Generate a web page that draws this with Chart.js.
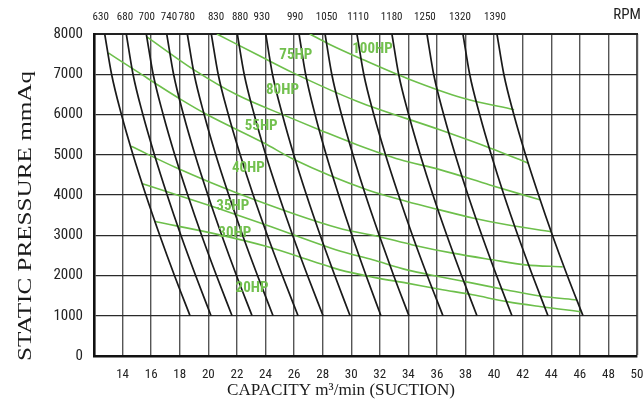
<!DOCTYPE html>
<html><head><meta charset="utf-8">
<script src="https://cdn.jsdelivr.net/npm/chart.js@4.4.1/dist/chart.umd.min.js"></script>
<style>html,body{margin:0;padding:0;background:#fff;}#wrap{width:643px;height:415px;}</style>
</head><body><div id="wrap"><canvas id="c" width="643" height="415"></canvas></div>
<script>
// ---- data ----
const pressureLevels = [8000, 7000, 6000, 5000, 4000, 3000, 2000, 1000];
const rpmNames = ['630','680','700','740','780','830','880','930','990','1050','1110','1180','1250','1320','1390'];
const rpmLabelCapacity = [12.47,14.17,15.69,17.25,18.49,20.54,22.22,23.74,26.07,28.28,30.48,32.83,35.16,37.61,40.06];
const rpmUnitLabel = 'RPM';
const rpmUnitCapacity = 49.3;
const rpmCurveCapacity = [
  [12.75,13.23,13.92,14.73,15.63,16.60,17.63,18.72],
  [14.26,14.73,15.42,16.23,17.12,18.08,19.11,20.19],
  [15.66,16.14,16.84,17.65,18.56,19.53,20.57,21.66],
  [17.09,17.57,18.26,19.07,19.97,20.94,21.97,23.06],
  [18.53,19.01,19.71,20.52,21.43,22.40,23.44,24.53],
  [20.21,20.69,21.40,22.23,23.14,24.13,25.18,26.28],
  [22.03,22.51,23.21,24.02,24.93,25.90,26.94,28.03],
  [24.02,24.49,25.18,25.98,26.87,27.83,28.85,29.92],
  [26.35,26.81,27.47,28.25,29.12,30.05,31.04,32.08],
  [28.17,28.64,29.32,30.12,31.00,31.96,32.97,34.04],
  [30.40,30.88,31.58,32.40,33.31,34.28,35.32,36.42],
  [32.85,33.32,34.02,34.83,35.72,36.69,37.72,38.80],
  [35.30,35.77,36.47,37.28,38.17,39.14,40.17,41.25],
  [37.82,38.29,38.99,39.80,40.69,41.66,42.69,43.77],
  [40.20,40.68,41.38,42.20,43.11,44.08,45.12,46.22]
];
const hpCurveCapacity = [
  [27.1,28.5,30.85,34.1,37.8,41.4],
  [20.6,23.4,25.9,30.4,36.2,39.7,42.4],
  [15.7,19.0,22.0,25.8,28.05,30.4,33.4,36.2,39.7,43.2],
  [13.0,15.0,18.1,19.9,23.9,26.0,31.1,33.9,36.2,38.5,40.9,44.0],
  [14.6,17.8,22.0,29.1,31.9,34.3,37.1,39.9,42.2,44.8],
  [15.4,20.4,24.1,29.2,31.5,33.9,36.2,38.5,40.9,43.2,45.8],
  [16.25,20.8,24.1,27.35,29.2,31.5,33.9,36.2,38.5,40.9,43.2,46.1]
];
const hpCurvePressure = [
  [8000,7740,7360,6870,6410,6120],
  [8000,7490,7040,6330,5620,5170,4790],
  [7930,7110,6490,5910,5580,5250,4880,4630,4250,3880],
  [7530,7070,6370,6000,5290,4880,4130,3840,3630,3430,3260,3090],
  [5210,4670,4050,3180,2970,2760,2555,2390,2265,2215],
  [4280,3700,3250,2610,2390,2140,1970,1810,1640,1490,1390],
  [3340,3010,2720,2350,2140,1960,1810,1660,1520,1350,1230,1100]
];
const hpLabelNames = ['100HP','75HP','80HP','55HP','40HP','35HP','30HP','20HP'];
const hpLabelCapacity = [31.49,26.12,25.19,23.70,22.80,21.71,21.85,23.06];
const hpLabelPressure = [7612,7468,6597,5704,4669,3714,3052,1684];
const xAxisTitle = 'CAPACITY m³/min (SUCTION)';
const yAxisTitle = 'STATIC PRESSURE mmAq';

// ---- styles ----
const NARROW = '"Liberation Sans Narrow", "Arial Narrow", "Roboto Condensed", "DejaVu Sans Condensed", sans-serif';
const SERIF = '"Liberation Serif", "Times New Roman", serif';
const GREEN = '#6dbf4b';

const datasets = [];
hpCurveCapacity.forEach((qs, i) => {
  datasets.push({
    type: 'line',
    data: qs.map((q, j) => ({x: q, y: hpCurvePressure[i][j]})),
    borderColor: GREEN, borderWidth: 1.6, pointRadius: 0,
    cubicInterpolationMode: 'monotone', fill: false, order: 2
  });
});
rpmCurveCapacity.forEach((qs) => {
  datasets.push({
    type: 'line',
    data: qs.map((q, j) => ({x: q, y: pressureLevels[j]})),
    borderColor: '#1a1a1a', borderWidth: 1.7, pointRadius: 0,
    cubicInterpolationMode: 'monotone', fill: false, order: 1
  });
});

const textPlugin = {
  id: 'extraText',
  afterDatasetsDraw(chart) {
    const ctx = chart.ctx, xs = chart.scales.x, ys = chart.scales.y;
    ctx.save();
    ctx.fillStyle = '#72c04e';
    ctx.font = 'bold 15px ' + NARROW;
    ctx.textAlign = 'center';
    ctx.textBaseline = 'middle';
    hpLabelNames.forEach((t, i) => {
      ctx.fillText(t, xs.getPixelForValue(hpLabelCapacity[i]), ys.getPixelForValue(hpLabelPressure[i]));
    });
    ctx.restore();
  },
  afterDraw(chart) {
    const ctx = chart.ctx;
    ctx.save();
    ctx.fillStyle = '#1a1a1a';
    ctx.font = '17px ' + SERIF;
    ctx.textBaseline = 'alphabetic';
    let w = ctx.measureText(xAxisTitle).width;
    ctx.save();
    ctx.translate(341, 395);
    ctx.scale(228 / w, 1);
    ctx.textAlign = 'center';
    ctx.fillText(xAxisTitle, 0, 0);
    ctx.restore();
    ctx.font = '18px ' + SERIF;
    w = ctx.measureText(yAxisTitle).width;
    ctx.save();
    ctx.translate(31, 216);
    ctx.rotate(-Math.PI / 2);
    ctx.scale(290 / w, 1);
    ctx.textAlign = 'center';
    ctx.fillText(yAxisTitle, 0, 0);
    ctx.restore();
    ctx.restore();
  }
};

const fixX = h => s => { s.height = h; s.paddingLeft = 0; s.paddingRight = 0; };

new Chart(document.getElementById('c'), {
  data: { datasets },
  plugins: [textPlugin],
  options: {
    responsive: false, animation: false, devicePixelRatio: 1,
    layout: { padding: { left: 0, right: 6, top: 0, bottom: 0 } },
    plugins: { legend: { display: false }, tooltip: { enabled: false } },
    scales: {
      x: {
        type: 'linear', position: 'bottom', min: 12, max: 50,
        afterFit: fixX(59),
        ticks: { stepSize: 2, padding: 11, color: '#222', autoSkip: false, maxRotation: 0,
          font: { family: NARROW, size: 13 },
          callback: v => (v === 12 ? '' : String(v)) },
        grid: { color: '#555', lineWidth: c => (c.tick && c.tick.value === 50 ? 2.2 : 1.4), drawTicks: false },
        border: { color: '#111', width: 2.6 }
      },
      x2: {
        type: 'linear', position: 'top', min: 12, max: 50,
        afterFit: fixX(34),
        afterBuildTicks: s => {
          s.ticks = rpmLabelCapacity.map(v => ({value: v})).concat([{value: rpmUnitCapacity}]);
        },
        ticks: { autoSkip: false, maxRotation: 0, padding: 10, color: '#222',
          font: c => (c.index === rpmNames.length ? {family: NARROW, size: 15} : {family: NARROW, size: 11}),
          callback: (v, i) => (i < rpmNames.length ? rpmNames[i] : rpmUnitLabel) },
        grid: { display: false, drawTicks: false },
        border: { display: true, color: '#222', width: 2 }
      },
      y: {
        type: 'linear', position: 'left', min: 0, max: 8000,
        afterFit: s => { s.width = 94; s.paddingTop = 0; s.paddingBottom = 0; },
        ticks: { stepSize: 1000, padding: 11, color: '#222', font: { family: NARROW, size: 15 },
          callback: v => String(v) },
        grid: { color: '#2a2a2a', lineWidth: 1.3, drawTicks: false },
        border: { color: '#111', width: 2.6 }
      }
    }
  }
});
</script></body></html>
